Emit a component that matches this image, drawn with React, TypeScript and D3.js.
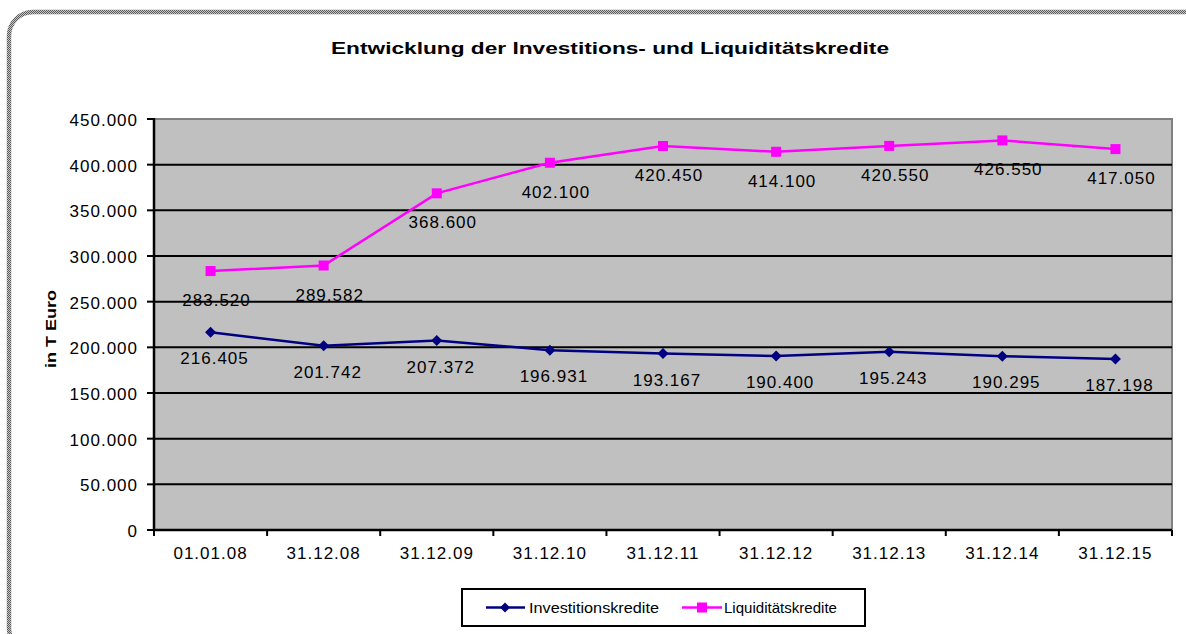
import React from "react";
import * as d3 from "d3";

const categories = ["01.01.08", "31.12.08", "31.12.09", "31.12.10", "31.12.11", "31.12.12", "31.12.13", "31.12.14", "31.12.15"];
const investitionskredite = [216405, 201742, 207372, 196931, 193167, 190400, 195243, 190295, 187198];
const liquiditaetskredite = [283520, 289582, 368600, 402100, 420450, 414100, 420550, 426550, 417050];
const yTicks = [0, 50000, 100000, 150000, 200000, 250000, 300000, 350000, 400000, 450000];
const seriesNames = ["Investitionskredite", "Liquiditätskredite"];
const title = "Entwicklung der Investitions- und Liquiditätskredite";
const yTitle = "in T Euro";

const W = 1186;
const H = 634;
const FONT = "'Liberation Sans', Arial, sans-serif";
const NAVY = "#000080";
const MAGENTA = "#FF00FF";

const de = d3.formatLocale({ decimal: ",", thousands: ".", grouping: [3], currency: ["", " €"] });
const fmt = de.format(",d");

export default function App() {
  const left = 154, right = 1172, top = 119, bottom = 530;
  const x = d3.scaleBand<string>().domain(categories).range([left, right]);
  const y = d3.scaleLinear().domain([0, 450000]).range([bottom, top]);
  const cx = (c: string) => (x(c) as number) + x.bandwidth() / 2;

  const line = d3
    .line<number>()
    .x((_, i) => cx(categories[i]))
    .y((v) => y(v));

  const diamond = (px: number, py: number, r: number) =>
    `M${px},${py - r}L${px + r},${py}L${px},${py + r}L${px - r},${py}Z`;

  const gridTicks = yTicks.filter((t) => t > 0 && t < 450000);
  const boundaries = categories.map((c) => x(c) as number).concat([right]);

  return (
    <svg width={W} height={H} style={{ position: "absolute", left: 0, top: 0, background: "#fff" }} fontFamily={FONT}>
      <defs>
        <pattern id="chk" width="2" height="2" patternUnits="userSpaceOnUse">
          <rect width="2" height="2" fill="#c8c8c8" />
          <rect width="1" height="1" fill="#5a5a5a" />
          <rect x="1" y="1" width="1" height="1" fill="#5a5a5a" />
        </pattern>
      </defs>
      <rect x={0} y={0} width={W} height={H} fill="#fff" />
      {/* outer rounded border */}
      <rect x={9} y={12} width={1200} height={640} rx={24} ry={24} fill="none" stroke="url(#chk)" strokeWidth={4.5} />

      {/* title */}
      <text x={610} y={54} textAnchor="middle" fontSize={17} fontWeight="bold" textLength={558} lengthAdjust="spacingAndGlyphs" fill="#000">
        {title}
      </text>

      {/* plot area */}
      <rect x={left} y={top} width={right - left} height={bottom - top} fill="#C0C0C0" stroke="#808080" strokeWidth={2} />

      {/* gridlines */}
      {gridTicks.map((t) => (
        <line key={t} x1={left} x2={right} y1={y(t)} y2={y(t)} stroke="#000" strokeWidth={2} />
      ))}

      {/* y axis */}
      <line x1={left} x2={left} y1={top - 1} y2={bottom + 1} stroke="#000" strokeWidth={2.5} />
      {yTicks.map((t) => (
        <g key={t}>
          <line x1={left - 7} x2={left} y1={y(t)} y2={y(t)} stroke="#000" strokeWidth={2} />
          <text x={138} y={y(t) + 7} textAnchor="end" fontSize={17} letterSpacing={1} fill="#000">
            {fmt(t)}
          </text>
        </g>
      ))}

      {/* x axis */}
      <line x1={left} x2={right} y1={bottom} y2={bottom} stroke="#000" strokeWidth={2.5} />
      {boundaries.map((b, i) => (
        <line key={i} x1={b} x2={b} y1={bottom} y2={bottom + 6} stroke="#000" strokeWidth={2} />
      ))}
      {categories.map((c) => (
        <text key={c} x={cx(c)} y={559} textAnchor="middle" fontSize={17} letterSpacing={1} fill="#000">
          {c}
        </text>
      ))}

      {/* y title */}
      <text
        transform={`translate(56,329) rotate(-90)`}
        textAnchor="middle"
        fontSize={15}
        fontWeight="bold"
        textLength={78}
        lengthAdjust="spacingAndGlyphs"
        fill="#000"
      >
        {yTitle}
      </text>

      {/* series lines */}
      <path d={line(investitionskredite) || ""} fill="none" stroke={NAVY} strokeWidth={2.5} />
      <path d={line(liquiditaetskredite) || ""} fill="none" stroke={MAGENTA} strokeWidth={2.5} />

      {investitionskredite.map((v, i) => (
        <path key={"d" + i} d={diamond(cx(categories[i]), y(v), 5.5)} fill={NAVY} />
      ))}
      {liquiditaetskredite.map((v, i) => (
        <rect key={"s" + i} x={cx(categories[i]) - 5} y={y(v) - 5} width={10} height={10} fill={MAGENTA} />
      ))}

      {/* data labels */}
      {investitionskredite.map((v, i) => (
        <text key={"li" + i} x={cx(categories[i]) + 4} y={y(v) + 32} textAnchor="middle" fontSize={17} letterSpacing={1} fill="#000">
          {fmt(v)}
        </text>
      ))}
      {liquiditaetskredite.map((v, i) => (
        <text key={"ll" + i} x={cx(categories[i]) + 6} y={y(v) + 35} textAnchor="middle" fontSize={17} letterSpacing={1} fill="#000">
          {fmt(v)}
        </text>
      ))}

      {/* legend */}
      <rect x={462} y={589} width={403} height={37} fill="#fff" stroke="#000" strokeWidth={2} />
      <line x1={486} x2={525} y1={607.5} y2={607.5} stroke={NAVY} strokeWidth={2.5} />
      <path d={diamond(505, 607.5, 5)} fill={NAVY} />
      <text x={529} y={613} fontSize={15} textLength={130} lengthAdjust="spacingAndGlyphs" fill="#000">
        {seriesNames[0]}
      </text>
      <line x1={682} x2={722} y1={607.5} y2={607.5} stroke={MAGENTA} strokeWidth={2.5} />
      <rect x={697} y={602.5} width={10} height={10} fill={MAGENTA} />
      <text x={724} y={613} fontSize={15} textLength={113} lengthAdjust="spacingAndGlyphs" fill="#000">
        {seriesNames[1]}
      </text>
    </svg>
  );
}
